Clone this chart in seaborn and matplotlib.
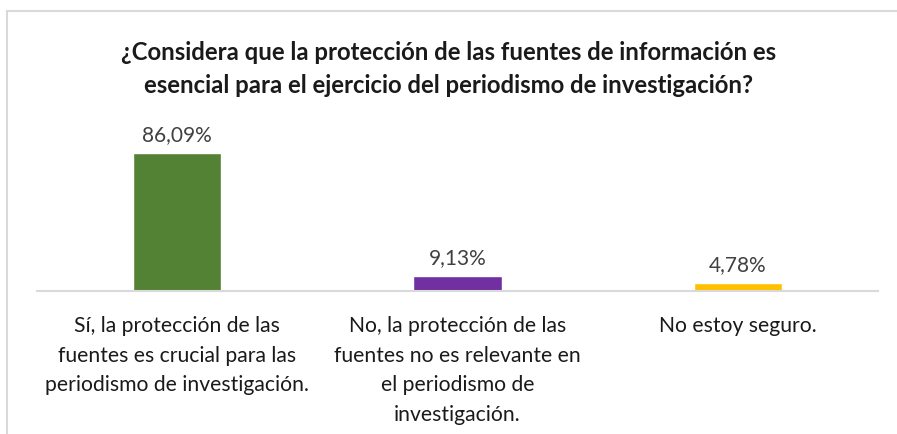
import matplotlib
matplotlib.use("Agg")
import matplotlib.pyplot as plt
import seaborn as sns
import pandas as pd
from matplotlib.patches import Rectangle

categories = [
    "Sí, la protección de las\nfuentes es crucial para las\nperiodismo de investigación.",
    "No, la protección de las\nfuentes no es relevante en\nel periodismo de\ninvestigación.",
    "No estoy seguro.",
]
values = [86.09, 9.13, 4.78]
colors = ["#548235", "#7030A0", "#FFC000"]
title = "¿Considera que la protección de las fuentes de información es\nesencial para el ejercicio del periodismo de investigación?"

sns.set_theme(style="white")
plt.rcParams['font.family'] = ['Lato', 'DejaVu Sans']

W, H = 897, 434
fig = plt.figure(figsize=(W / 100, H / 100), dpi=100)
left_px, right_px, base_px, top_px = 36.75, 878.25, 291, 130.7
ax = fig.add_axes([left_px / W, 1 - base_px / H, (right_px - left_px) / W, (base_px - top_px) / H])

df = pd.DataFrame({"cat": categories, "val": values})
sns.barplot(data=df, x="cat", y="val", hue="cat", palette=colors, width=0.314,
            legend=False, ax=ax, saturation=1)
ax.set_ylim(0, 100)
ax.set_xlim(-0.5, 2.5)
ax.set_xlabel("")
ax.set_ylabel("")
ax.set_yticks([])
for s in ["top", "right", "left"]:
    ax.spines[s].set_visible(False)
ax.spines["bottom"].set_color("#D9D9D9")
ax.spines["bottom"].set_linewidth(1.5)
ax.tick_params(axis="x", length=0, pad=18)
ax.set_xticks(range(len(categories)))
ax.set_xticklabels(categories, fontsize=15.2, color="#1a1a1a", linespacing=1.6)

for i, v in enumerate(values):
    ax.annotate(f"{v:.2f}%".replace(".", ","), (i, v), xytext=(0, 6), textcoords="offset points",
                ha="center", va="bottom", fontsize=15, color="#404040")

fig.text(0.5, 1 - 69 / H, title, ha="center", va="center", fontsize=17.2,
         fontweight="bold", color="#1a1a1a", linespacing=1.48)

fig.patches.append(Rectangle((7 / W, -0.1), 1.2, 1 - 11 / H + 0.1, transform=fig.transFigure,
                             fill=False, edgecolor="#D9D9D9", linewidth=1.5, zorder=0))

fig.savefig("out.png", dpi=100)
